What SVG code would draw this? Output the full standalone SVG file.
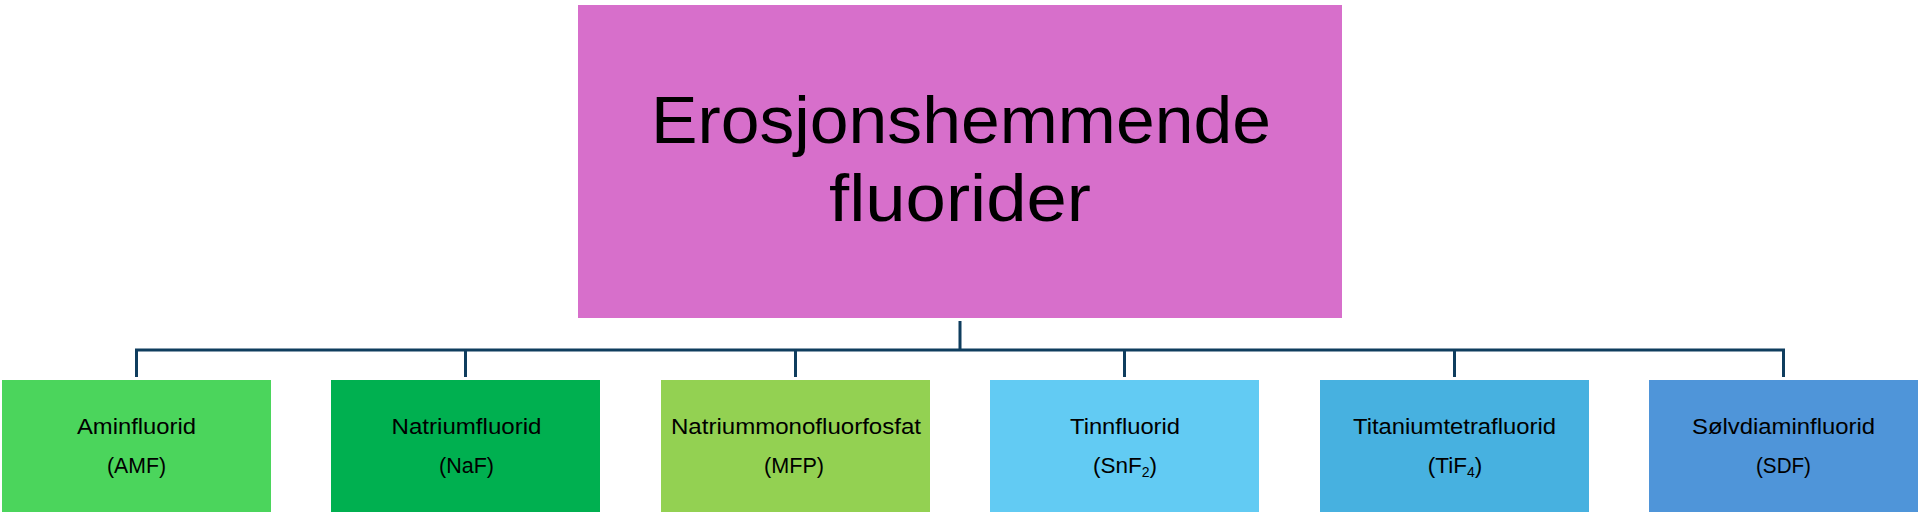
<svg xmlns="http://www.w3.org/2000/svg" width="1920" height="519" viewBox="0 0 1920 519">
<style>
.box{stroke:none}
.t{font-family:"Liberation Sans",Arial,sans-serif;fill:#000;text-anchor:middle}
.big{font-size:67px}
.sm{font-size:22.5px}
.sub{font-size:14px}
.c{stroke:#0f3d5e;stroke-width:3;fill:none}
</style>
<rect width="1920" height="519" fill="#fff"/>
<g id="connectors">
<path class="c" d="M960,321V350M136.5,350H1783.5M136.5,348.5V377M465.5,348.5V377M795.5,348.5V377M1124.5,348.5V377M1454.5,348.5V377M1783.5,348.5V377"/>
</g>
<g id="root">
<rect class="box" x="578" y="5" width="764" height="313" fill="#d76fcb"/>
<text class="t big" x="961" y="143" textLength="620" lengthAdjust="spacingAndGlyphs">Erosjonshemmende</text>
<text class="t big" x="960" y="221" textLength="262" lengthAdjust="spacingAndGlyphs">fluorider</text>
</g>
<g id="amf">
<rect class="box" x="2" y="380" width="269" height="132" fill="#4bd55c"/>
<text class="t sm" x="136.5" y="434" textLength="119" lengthAdjust="spacingAndGlyphs">Aminfluorid</text>
<text class="t sm" x="136.5" y="473" textLength="59" lengthAdjust="spacingAndGlyphs">(AMF)</text>
</g>
<g id="naf">
<rect class="box" x="331" y="380" width="269" height="132" fill="#00b050"/>
<text class="t sm" x="466.5" y="434" textLength="150" lengthAdjust="spacingAndGlyphs">Natriumfluorid</text>
<text class="t sm" x="466.5" y="473" textLength="55" lengthAdjust="spacingAndGlyphs">(NaF)</text>
</g>
<g id="mfp">
<rect class="box" x="661" y="380" width="269" height="132" fill="#93d152"/>
<text class="t sm" x="796" y="434" textLength="250" lengthAdjust="spacingAndGlyphs">Natriummonofluorfosfat</text>
<text class="t sm" x="794" y="473" textLength="60" lengthAdjust="spacingAndGlyphs">(MFP)</text>
</g>
<g id="snf2">
<rect class="box" x="990" y="380" width="269" height="132" fill="#62cbf3"/>
<text class="t sm" x="1125" y="434" textLength="110" lengthAdjust="spacingAndGlyphs">Tinnfluorid</text>
<text class="t sm" x="1125" y="473">(SnF<tspan class="sub" dy="4">2</tspan><tspan dy="-4">)</tspan></text>
</g>
<g id="tif4">
<rect class="box" x="1320" y="380" width="269" height="132" fill="#47b1e0"/>
<text class="t sm" x="1454.5" y="434" textLength="203" lengthAdjust="spacingAndGlyphs">Titaniumtetrafluorid</text>
<text class="t sm" x="1455" y="473">(TiF<tspan class="sub" dy="4">4</tspan><tspan dy="-4">)</tspan></text>
</g>
<g id="sdf">
<rect class="box" x="1649" y="380" width="269" height="132" fill="#4f95d9"/>
<text class="t sm" x="1783.5" y="434" textLength="183" lengthAdjust="spacingAndGlyphs">Sølvdiaminfluorid</text>
<text class="t sm" x="1783.5" y="473" textLength="55" lengthAdjust="spacingAndGlyphs">(SDF)</text>
</g>
</svg>
